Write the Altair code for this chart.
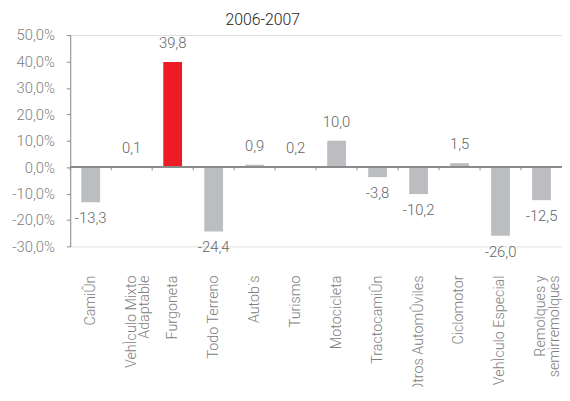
import altair as alt
import pandas as pd

categories = ["CamiÛn", "VehÌculo Mixto\nAdaptable", "Furgoneta", "Todo Terreno", "Autob˙s",
              "Turismo", "Motocicleta", "TractocamiÛn", "Otros AutomÛviles", "Ciclomotor",
              "VehÌculo Especial", "Remolques y\nsemirremolques"]
values = [-13.3, 0.1, 39.8, -24.4, 0.9, 0.2, 10.0, -3.8, -10.2, 1.5, -26.0, -12.5]
y_ticks = [-30, -20, -10, 0, 10, 20, 30, 40, 50]
highlight = "Furgoneta"
title_text = "2006-2007"

df = pd.DataFrame({"cat": categories, "value": values})

FONT = "Roboto"
W = 300
xsort = categories

x_scale = alt.Scale(paddingInner=0, paddingOuter=0)
x_axis = alt.Axis(title=None, domain=False, ticks=False, labelAngle=-90,
                  labelPadding=29, labelFontSize=14.5, labelColor="#808080",
                  labelFont=FONT, labelFontWeight=W, labelLineHeight=14,
                  labelOverlap=False,
                  labelExpr="split(datum.label, '\\n')")
y_scale = alt.Scale(domain=[-30, 50], nice=False, zero=False)
y_axis = alt.Axis(title=None, values=y_ticks, grid=False, domainColor="#8c8c8c",
                  tickColor="#8c8c8c", tickSize=4, labelPadding=12, labelFontSize=15,
                  labelColor="#808080", labelFont=FONT, labelFontWeight=W, labelOverlap=False,
                  labelExpr="(datum.value < 0 ? '-' : '') + replace(format(abs(datum.value), '.1f'), '.', ',') + '%'")


def X(**kw):
    return alt.X("cat:N", sort=xsort, scale=x_scale, axis=x_axis, **kw)


def Y(field="value:Q"):
    return alt.Y(field, scale=y_scale, axis=y_axis)


base = alt.Chart(df)

bars = base.mark_bar(size=19).encode(
    x=X(),
    y=Y(),
    color=alt.condition(alt.datum.cat == highlight, alt.value("#ED1C24"), alt.value("#BCBDC1")),
)

zero = base.mark_rule(color="#8c8c8c", strokeWidth=1).encode(
    y=alt.Y(datum=0, scale=y_scale, axis=y_axis),
)

ticks = base.mark_rule(color="#8c8c8c", strokeWidth=1).encode(
    x=X(bandPosition=0),
    y=alt.Y(datum=0, scale=y_scale, axis=y_axis),
    y2=alt.datum(-1.2),
)

lab = "(datum.value < 0 ? '-' : '') + replace(format(abs(datum.value), '.1f'), '.', ',')"

pos_text = base.transform_filter("datum.value >= 0").transform_calculate(lab=lab).mark_text(
    baseline="middle", dy=-19, fontSize=15, color="#666666", font=FONT, fontWeight=W
).encode(x=X(), y=Y(), text="lab:N")

neg_text = base.transform_filter("datum.value < 0").transform_calculate(lab=lab).mark_text(
    baseline="middle", dy=16, fontSize=15, color="#666666", font=FONT, fontWeight=W
).encode(x=X(), y=Y(), text="lab:N")

chart = alt.layer(bars, zero, ticks, pos_text, neg_text).properties(
    width=498, height=214,
    title=alt.TitleParams(title_text, fontSize=16, font=FONT, fontWeight=W,
                          color="#222222", anchor="middle", dx=-54, offset=0),
    autosize=alt.AutoSizeParams(type="none"),
    padding={"left": 63, "top": 25, "right": 0, "bottom": 140},
).configure_view(strokeWidth=0).configure(background="white")

chart.save("out.html", embed_options={"renderer": "svg", "actions": False})
